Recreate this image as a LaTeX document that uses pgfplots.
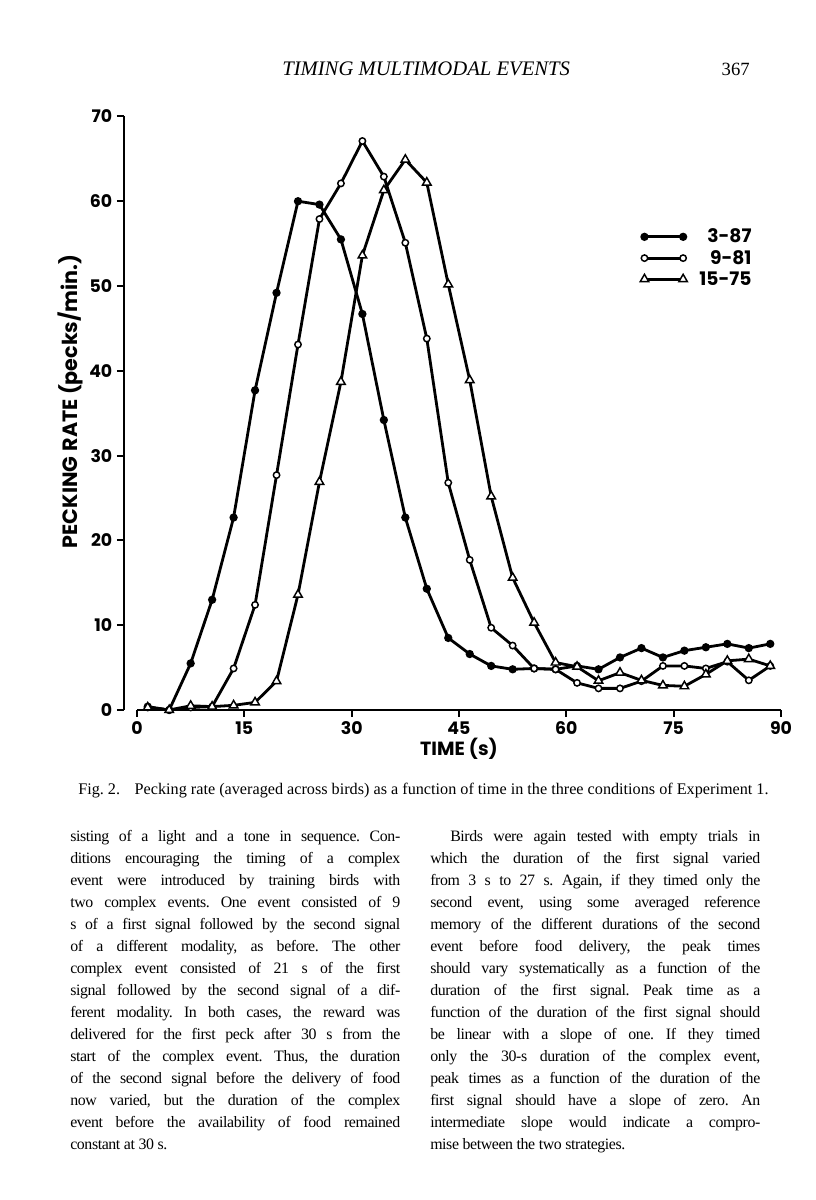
\documentclass[border=0pt]{standalone}
\usepackage{fontspec}
\setmainfont{Liberation Serif}
\newfontfamily\bodyfont{Liberation Serif}[LetterSpace=-2.5]
\newfontfamily\chartfont{Poppins}
\usepackage{pgfplots}
\pgfplotsset{compat=1.18}

\newlength\colw
\setlength\colw{247.5pt}
% one justified line of body text, and the last line of a paragraph
\newcommand\jl[1]{\hbox to\colw{#1}}
\newcommand\jle[1]{\hbox to\colw{#1\hfil}}

\pgfplotstableread{
x    a     b     c
1.5  0.4   0.3   0.3
4.5  0     0     0
7.5  5.5   0.3   0.5
10.5 13.0  0.4   0.4
13.5 22.7  4.9   0.55
16.5 37.7  12.4  0.9
19.5 49.2  27.7  3.4
22.5 60.0  43.1  13.6
25.5 59.6  57.9  26.9
28.5 55.5  62.1  38.7
31.5 46.7  67.1  53.6
34.5 34.2  62.9  61.3
37.5 22.7  55.1  64.9
40.5 14.3  43.8  62.2
43.5 8.5   26.8  50.2
46.5 6.6   17.7  38.9
49.5 5.2   9.7   25.2
52.5 4.8   7.6   15.6
55.5 4.9   4.9   10.3
58.5 4.8   4.8   5.6
61.5 5.2   3.2   5.1
64.5 4.8   2.55  3.45
67.5 6.2   2.55  4.4
70.5 7.3   3.4   3.5
73.5 6.2   5.2   2.9
76.5 7.0   5.2   2.8
79.5 7.4   4.9   4.2
82.5 7.8   5.7   5.8
85.5 7.3   3.5   6.0
88.5 7.8   5.2   5.2
}\peckdata

\begin{document}
\frenchspacing
\begin{tikzpicture}
\begin{scope}[x=0.75pt,y=-0.75pt]
\path[use as bounding box, fill=white] (0,0) rectangle (816,1200);
\node[anchor=base west, inner sep=0, font=\fontsize{15.5}{17}\selectfont\itshape] at (282,75) {TIMING MULTIMODAL EVENTS};
\node[anchor=base east, inner sep=0, font=\fontsize{14}{16}\selectfont] at (750,75) {367};
\node[anchor=base west, inner sep=0, font=\fontsize{12.15}{14}\selectfont] at (78,794)
  {Fig. 2.\hspace{0.9em}Pecking rate (averaged across birds) as a function of time in the three conditions of Experiment 1.};

\node[anchor=base west, inner sep=0] at (70,841) {\bodyfont\fontsize{11.9}{16.5}\selectfont\vtop{
\jl{sisting of a light and a tone in sequence. Con-}
\jl{ditions encouraging the timing of a complex}
\jl{event were introduced by training birds with}
\jl{two complex events. One event consisted of 9}
\jl{s of a first signal followed by the second signal}
\jl{of a different modality, as before. The other}
\jl{complex event consisted of 21 s of the first}
\jl{signal followed by the second signal of a dif-}
\jl{ferent modality. In both cases, the reward was}
\jl{delivered for the first peck after 30 s from the}
\jl{start of the complex event. Thus, the duration}
\jl{of the second signal before the delivery of food}
\jl{now varied, but the duration of the complex}
\jl{event before the availability of food remained}
\jle{constant at 30 s.}}};

\node[anchor=base west, inner sep=0] at (430,841) {\bodyfont\fontsize{11.9}{16.5}\selectfont\vtop{
\jl{\hspace{15pt}Birds were again tested with empty trials in}
\jl{which the duration of the first signal varied}
\jl{from 3 s to 27 s. Again, if they timed only the}
\jl{second event, using some averaged reference}
\jl{memory of the different durations of the second}
\jl{event before food delivery, the peak times}
\jl{should vary systematically as a function of the}
\jl{duration of the first signal. Peak time as a}
\jl{function of the duration of the first signal should}
\jl{be linear with a slope of one. If they timed}
\jl{only the 30-s duration of the complex event,}
\jl{peak times as a function of the duration of the}
\jl{first signal should have a slope of zero. An}
\jl{intermediate slope would indicate a compro-}
\jle{mise between the two strategies.}}};
\end{scope}

\begin{axis}[
  at={(102.75pt,-532.5pt)}, anchor=south west,
  scale only axis, width=483pt, height=445.2pt,
  xmin=0, xmax=90, ymin=0, ymax=70,
  xtick={0,15,...,90}, ytick={0,10,...,70},
  axis x line*=bottom, axis y line*=left,
  axis y line shift=10pt,
  axis line style={-, line width=1.6pt},
  tick align=outside, major tick length=5pt,
  tick style={line width=1.6pt, black},
  /pgf/number format/assume math mode=true,
  tick label style={font=\chartfont\bfseries\fontsize{13}{15}\selectfont},
  xlabel style={font=\chartfont\bfseries\fontsize{14.3}{16}\selectfont, yshift=4pt},
  ylabel style={font=\chartfont\bfseries\fontsize{15.5}{17}\selectfont, at={(ticklabel cs:0.52)}, yshift=-2pt},
  xlabel={TIME (s)},
  ylabel={PECKING\hspace{0.25em}RATE (pecks/min.)},
  clip=false,
  every axis plot/.append style={black, line width=2.1pt},
  legend cell align=right,
  legend style={draw=none, fill=none, at={(0.965,0.82)}, anchor=north east,
    font=\chartfont\bfseries\fontsize{14}{15}\selectfont,
    row sep=0pt,
    /tikz/every odd column/.append style={column sep=7pt}},
  legend image code/.code={\draw[#1] plot coordinates {(0pt,0pt) (29pt,0pt)};},
]
\addplot[mark=*, mark size=2pt] table[x=x, y=a] {\peckdata};
\addplot[mark=*, mark size=2.4pt, mark options={fill=white, line width=1.1pt}] table[x=x, y=b] {\peckdata};
\addplot[mark=triangle*, mark size=3.7pt, mark options={fill=white, line width=1.1pt}] table[x=x, y=c] {\peckdata};
\legend{3-87, 9-81, 15-75}
\end{axis}
\end{tikzpicture}
\end{document}
